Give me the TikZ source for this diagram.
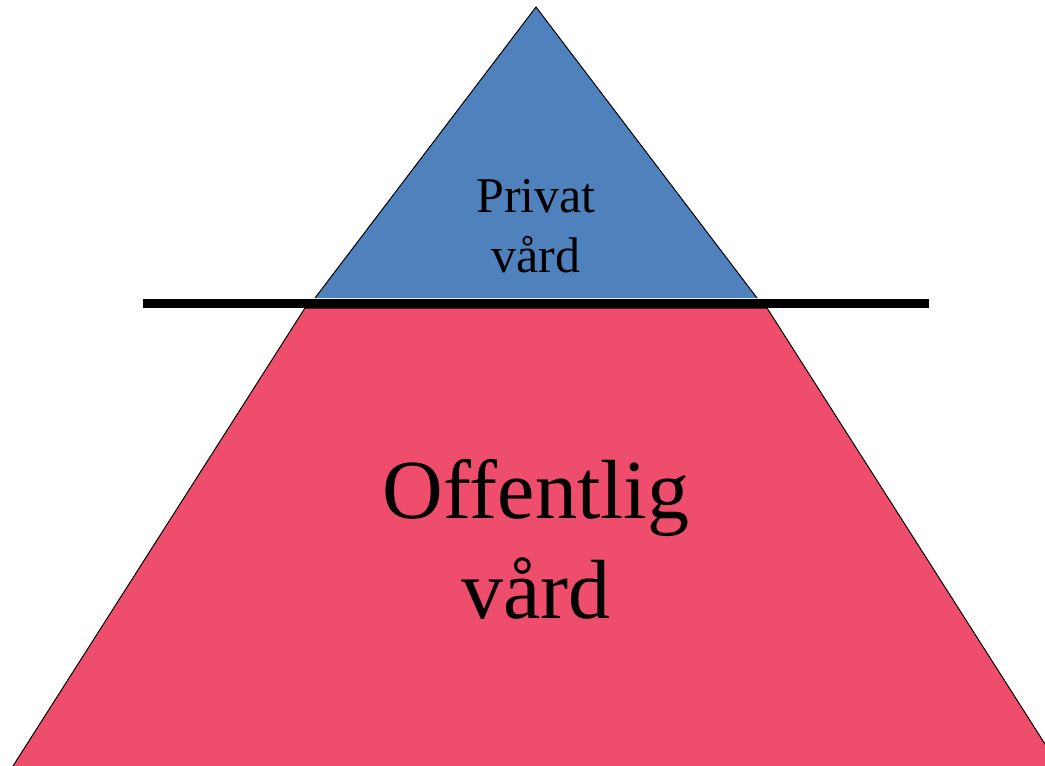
\documentclass[tikz,border=0pt]{standalone}
\usepackage{fontspec}
\setmainfont{Liberation Serif}
\usetikzlibrary{calc}
\definecolor{privblue}{HTML}{4F81BD}
\definecolor{offred}{HTML}{EE4E6C}

\begin{document}
\begin{tikzpicture}[x=1pt,y=-1pt]
\useasboundingbox (0,0) rectangle (1045,766);
\clip (0,0) rectangle (1045,766);
\coordinate (T) at (536,7);
\coordinate (BL) at (315,298);
\coordinate (BR) at (757,298);
\coordinate (RL) at (305,308);
\coordinate (RR) at (767,308);
\coordinate (SL) at (13,766);
\coordinate (SR) at (1059,766);
\coordinate (L) at (143,303);
\coordinate (R) at (929,303);
\fill [offred] (SL) -- (RL) -- (RR) -- (SR) -- cycle;
\draw [line width=1pt] (SL) -- (RL) -- (RR) -- (SR);
\fill [privblue] (BL) -- (T) -- (BR) -- cycle;
\draw [line width=1pt] (BL) -- (T) -- (BR);
\draw [line width=9pt] (L) -- (R);
\node[align=center,inner sep=0pt,font=\fontsize{50}{60}\selectfont] (privat) at (536,226) {Privat\\vård};
\node[align=center,inner sep=0pt,font=\fontsize{84}{100}\selectfont] (offentlig) at (536,539) {Offentlig\\vård};
\end{tikzpicture}
\end{document}
